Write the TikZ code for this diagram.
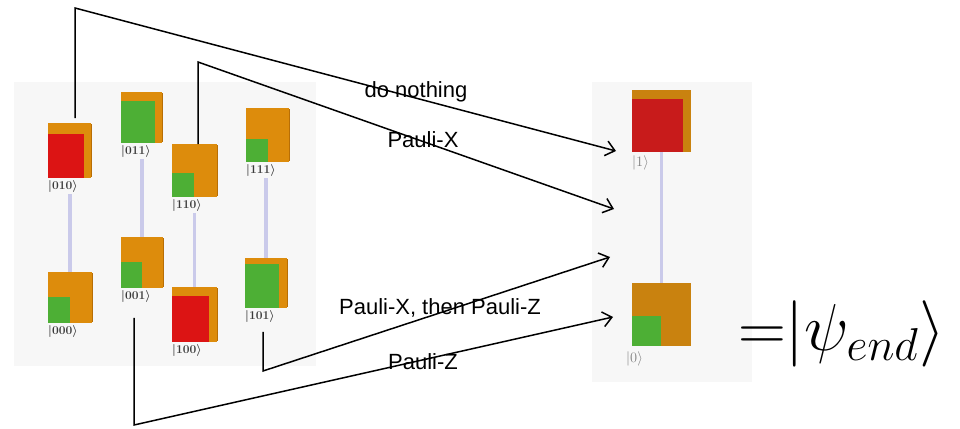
\documentclass[tikz,border=0pt]{standalone}
\usepackage{fontspec}
\usepackage{graphicx}
\setsansfont{Liberation Sans}
\usetikzlibrary{arrows.meta,calc}
\definecolor{qorange}{HTML}{DD8C0C}
\definecolor{qorangeD}{HTML}{B86E05}
\definecolor{qorangeR}{HTML}{C9820F}
\definecolor{qred}{HTML}{DC1414}
\definecolor{qredR}{HTML}{C81B1B}
\definecolor{qgreen}{HTML}{4DAF35}
\definecolor{qlav}{HTML}{CACAEA}
\definecolor{panel}{HTML}{F7F7F7}
\definecolor{ketgray}{HTML}{3A3A3A}
\tikzset{
  ob/.style={fill=qorange, draw=none, inner sep=0pt, anchor=north west},
  obr/.style={fill=qorangeR, draw=none, inner sep=0pt, anchor=north west},
  fr/.style={draw=none, inner sep=0pt, anchor=south west},
  edge3d/.style={draw=qorangeD, line width=1.8pt},
  ket/.style={font=\fontsize{12}{13}\selectfont\boldmath, text=ketgray, inner sep=0pt, anchor=north west},
  ketr/.style={font=\fontsize{14}{16}\selectfont, text=gray, inner sep=0pt, anchor=north west},
  link/.style={draw=qlav, line width=3.5pt},
  conn/.style={draw=black, line width=1.5pt, -{Straight Barb[length=9pt,width=15pt,line width=1.5pt]}},
  lbl/.style={font=\sffamily\fontsize{22}{26}\selectfont, inner sep=0pt},
}
\begin{document}
\begin{tikzpicture}[x=1pt,y=-1pt]
\fill[white] (0,0) rectangle (960,428);
\useasboundingbox (0,0) rectangle (960,428);
% panels
\fill[panel] (14,82) rectangle (316,366);
\fill[panel] (592,82) rectangle (752,382);

% left squares
\node[ob, minimum width=43pt, minimum height=55pt] (o010) at (48,123) {};
\node[fr, fill=qred, minimum width=36pt, minimum height=44pt] (f010) at (o010.south west) {};
\node[ob, minimum width=41pt, minimum height=51pt] (o011) at (121,92) {};
\node[fr, fill=qgreen, minimum width=34pt, minimum height=42pt] (f011) at (o011.south west) {};
\node[ob, minimum width=45pt, minimum height=53pt] (o110) at (172,144) {};
\node[fr, fill=qgreen, minimum width=22pt, minimum height=24pt] (f110) at (o110.south west) {};
\node[ob, minimum width=43pt, minimum height=54pt] (o111) at (246,108) {};
\node[fr, fill=qgreen, minimum width=22pt, minimum height=23pt] (f111) at (o111.south west) {};
\node[ob, minimum width=44pt, minimum height=51pt] (o000) at (48,272) {};
\node[fr, fill=qgreen, minimum width=22pt, minimum height=26pt] (f000) at (o000.south west) {};
\node[ob, minimum width=42pt, minimum height=51pt] (o001) at (121,237) {};
\node[fr, fill=qgreen, minimum width=21pt, minimum height=26pt] (f001) at (o001.south west) {};
\node[ob, minimum width=45pt, minimum height=55pt] (o100) at (172,287) {};
\node[fr, fill=qred, minimum width=37pt, minimum height=46pt] (f100) at (o100.south west) {};
\node[ob, minimum width=42pt, minimum height=50pt] (o101) at (245,258) {};
\node[fr, fill=qgreen, minimum width=34pt, minimum height=44pt] (f101) at (o101.south west) {};
\foreach \s in {o010,o011,o110,o111,o000,o001,o100,o101}{
  \draw[edge3d] ([yshift=-1pt]\s.north east) -- ([yshift=1pt]\s.south east);
}
% kets
\node[ket] (k010) at ([yshift=-2pt]o010.south west) {$|010\rangle$};
\node[ket] (k011) at ([yshift=-2pt]o011.south west) {$|011\rangle$};
\node[ket] (k110) at ([yshift=-2pt]o110.south west) {$|110\rangle$};
\node[ket] (k111) at ([yshift=-2pt]o111.south west) {$|111\rangle$};
\node[ket] (k000) at ([yshift=-2pt]o000.south west) {$|000\rangle$};
\node[ket] (k001) at ([yshift=-2pt]o001.south west) {$|001\rangle$};
\node[ket] (k100) at ([yshift=-2pt]o100.south west) {$|100\rangle$};
\node[ket] (k101) at ([yshift=-2pt]o101.south west) {$|101\rangle$};
% links
\draw[link] ([yshift=-1pt]k010.south -| o000.north) -- (o000.north);
\draw[link] ([yshift=-1pt]k011.south -| o001.north) -- (o001.north);
\draw[link] ([yshift=-1pt]k110.south -| o100.north) -- (o100.north);
\draw[link] ([yshift=-1pt]k111.south -| o101.north) -- (o101.north);

% right panel
\node[obr, minimum width=59pt, minimum height=62pt] (o1) at (632,90) {};
\node[fr, fill=qredR, minimum width=51pt, minimum height=53pt] (f1) at (o1.south west) {};
\node[obr, minimum width=59pt, minimum height=63pt] (o0) at (632,283) {};
\node[fr, fill=qgreen, minimum width=29pt, minimum height=30pt] (f0) at (o0.south west) {};
\node[ketr] (k1) at ([yshift=-3pt]o1.south west) {$|1\rangle$};
\node[ketr] (k0) at ([xshift=-6pt,yshift=-5pt]o0.south west) {$|0\rangle$};
\draw[link] (o1.south) -- (o0.north);

% connectors
\coordinate (b1) at (75,8);
\coordinate (b2) at (198,62);
\coordinate (b3) at (263,371);
\coordinate (b4) at (134,425);
\coordinate (t1) at (616,151);
\coordinate (t2) at (614,209);
\coordinate (t3) at (610,257);
\coordinate (t4) at (613,317);
\draw[conn, shorten <=5pt] (o010.north -| b1) -- (b1) -- (t1);
\draw[conn] (o110.north -| b2) -- (b2) -- (t2);
\draw[conn, shorten <=9pt] (k101.south -| b3) -- (b3) -- (t3);
\draw[conn, shorten <=15pt] (k001.south -| b4) -- (b4) -- (t4);

% labels
\node[lbl] (l1) at (416,92) {do nothing};
\node[lbl] (l2) at (423,140) {Pauli-X};
\node[lbl] (l3) at (440,308) {Pauli-X, then Pauli-Z};
\node[lbl] (l4) at (423,362) {Pauli-Z};

% equation
\node[anchor=west, inner sep=0pt] (eq) at (738,334) {\scalebox{3.2}{\fontsize{20}{24}\selectfont${=}|\psi_{end}\rangle$}};
\end{tikzpicture}
\end{document}
